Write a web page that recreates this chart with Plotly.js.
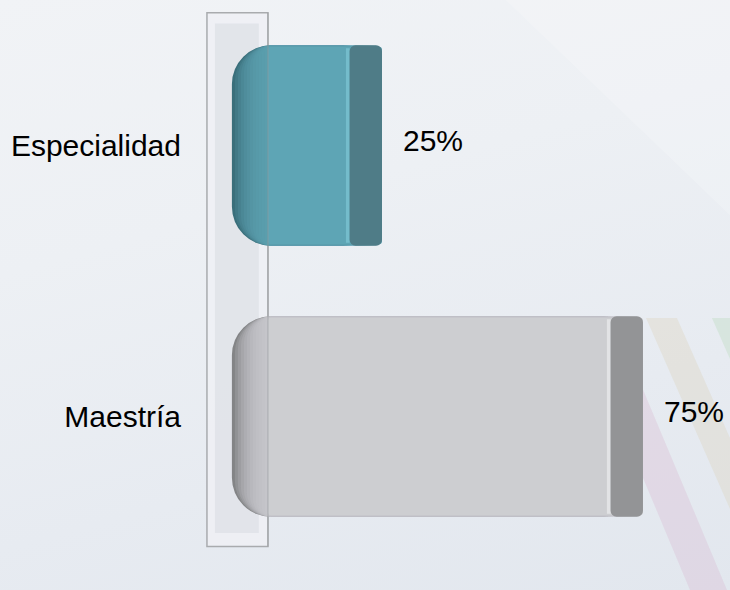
<!DOCTYPE html>
<html>
<head>
<meta charset="utf-8">
<script src="https://cdn.plot.ly/plotly-3.0.1.min.js"></script>
<style>
  html, body { margin: 0; padding: 0; }
  body {
    width: 730px; height: 590px; overflow: hidden;
    background: linear-gradient(165deg, #f1f3f6 0%, #edf0f4 35%, #e7ebf1 70%, #e2e7ee 100%);
  }
  #chart { width: 730px; height: 590px; }
</style>
</head>
<body>
<div id="chart"></div>
<script>
var categories = ["Especialidad", "Maestría"];
var values = [25, 75];
var valueLabels = ["25%", "75%"];

var frontRgb = [[94, 165, 181], [205, 206, 209]];
var capDark = ["#3a6f7b", "#838486"];
var sideColors = ["#4f7c87", "#939496"];
var edgeColors = ["#74bccb", "#e2e3e5"];

// fake 3d pieces, in axis units (1 unit ~ 5.22 px)
var pxPerUnit = 5.22;
var capStart = -3.75;   // left end of the rounded cap
var capRadius = 39;     // px
var capDepth = 36;      // px, where the flat face begins
var sideW = 6.2;        // dark end face
var barW = 0.74;

function rgba(c, a) {
    return "rgba(" + c[0] + "," + c[1] + "," + c[2] + "," + a + ")";
}

function hbar(base, len, colors, radius, width) {
    return {
        type: "bar",
        orientation: "h",
        y: categories,
        base: base,
        x: len,
        width: width || barW,
        marker: { color: colors, cornerradius: radius, line: { width: 0 } },
        hoverinfo: "skip",
        showlegend: false
    };
}

var traces = [];

// rounded body, dark at the cap
traces.push(hbar(values, values.map(function (v) { return capStart - v; }), capDark, capRadius));

// lighter layers moving right -> shading on the cap
for (var d = 3; d <= capDepth; d += 3) {
    var start = capStart + d / pxPerUnit;
    var last = d >= capDepth;
    traces.push(hbar(
        values,
        values.map(function (v) { return start - v; }),
        frontRgb.map(function (c) { return rgba(c, last ? 1 : 0.2); }),
        Math.max(capRadius - d, 0),
        last ? barW * 0.985 : barW
    ));
}

// thin light strip before the end face
traces.push(hbar(values.map(function (v) { return v - sideW - 0.7; }),
    values.map(function () { return 0.7; }), edgeColors, 0, barW * 0.97));

// dark end face
traces.push(hbar(values.map(function (v) { return v - sideW; }),
    values.map(function () { return sideW; }), sideColors, 6));

var labelFont = { family: "Liberation Sans, Arial, sans-serif", size: 30, color: "#000" };

var annotations = values.map(function (v, i) {
    return {
        x: v, y: categories[i], xref: "x", yref: "y",
        text: valueLabels[i], showarrow: false,
        xanchor: "left", xshift: 19, yshift: 5,
        font: labelFont
    };
});

var shapes = [
    // lighter corner top right
    { type: "path", xref: "paper", yref: "paper", layer: "below",
      path: "M 0.60 1.02 L 1.02 1.02 L 1.02 0.62 Z",
      fillcolor: "rgba(255,255,255,0.18)", line: { width: 0 } },
    // faint stripes bottom right
    { type: "path", xref: "paper", yref: "paper", layer: "below",
      path: "M 0.7323 0.4317 L 0.8011 0.4317 L 1.013 -0.0701 L 0.9442 -0.0701 Z",
      fillcolor: "rgba(215,180,205,0.30)", line: { width: 0 } },
    { type: "path", xref: "paper", yref: "paper", layer: "below",
      path: "M 0.8625 0.4317 L 0.920 0.4317 L 1.0186 0.2103 L 1.0186 0.0793 Z",
      fillcolor: "rgba(222,212,192,0.38)", line: { width: 0 } },
    { type: "path", xref: "paper", yref: "paper", layer: "below",
      path: "M 0.985 0.4317 L 1.0186 0.4317 L 1.0186 0.3561 Z",
      fillcolor: "rgba(195,222,200,0.45)", line: { width: 0 } },
    // glass wall
    { type: "rect", xref: "x", yref: "y", layer: "below",
      x0: -8.53, x1: 3.16, y0: -0.49, y1: 1.48,
      fillcolor: "rgba(238,240,244,0.85)", line: { color: "#a9abae", width: 1.5 } },
    { type: "rect", xref: "x", yref: "y", layer: "below",
      x0: -7.0, x1: 1.4, y0: -0.45, y1: 1.43,
      fillcolor: "rgba(210,214,221,0.45)", line: { width: 0 } },
    { type: "line", xref: "x", yref: "y", layer: "above",
      x0: 3.16, x1: 3.16, y0: -0.49, y1: 1.48,
      line: { color: "rgba(150,152,155,0.5)", width: 1.2 } }
];

var layout = {
    width: 730,
    height: 590,
    margin: { l: 182, r: 10, t: 10, b: 38 },
    paper_bgcolor: "rgba(0,0,0,0)",
    plot_bgcolor: "rgba(0,0,0,0)",
    barmode: "overlay",
    showlegend: false,
    font: labelFont,
    xaxis: {
        range: [-13.31, 89.76],
        showgrid: false, zeroline: false, showticklabels: false, showline: false
    },
    yaxis: {
        range: [1.5, -0.5],
        showgrid: false, zeroline: false, showline: false, ticks: "",
        tickfont: labelFont
    },
    shapes: shapes,
    annotations: annotations
};

Plotly.newPlot("chart", traces, layout, { displayModeBar: false, staticPlot: true });
</script>
</body>
</html>
